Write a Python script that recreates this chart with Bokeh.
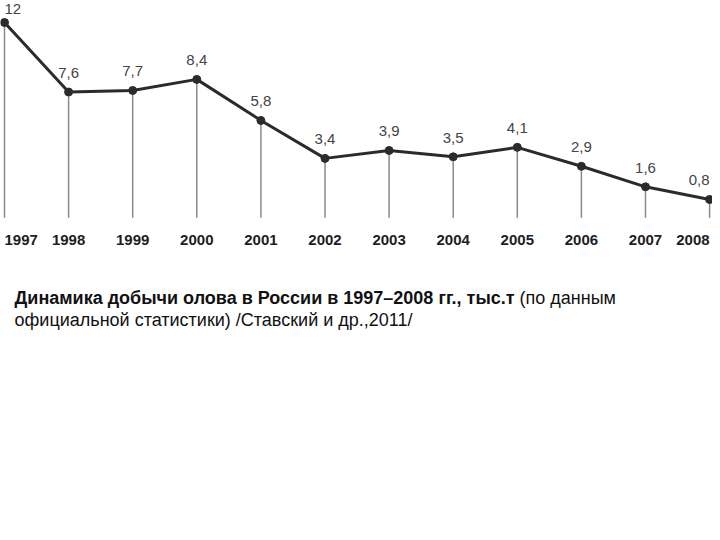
from bokeh.plotting import figure
from bokeh.models import ColumnDataSource, Label
from bokeh.core.properties import value
from bokeh.embed import file_html
from bokeh.resources import INLINE

years = ["1997", "1998", "1999", "2000", "2001", "2002", "2003", "2004", "2005", "2006", "2007", "2008"]
production = [12, 7.6, 7.7, 8.4, 5.8, 3.4, 3.9, 3.5, 4.1, 2.9, 1.6, 0.8]
value_labels = ["12", "7,6", "7,7", "8,4", "5,8", "3,4", "3,9", "3,5", "4,1", "2,9", "1,6", "0,8"]
caption_bold = "Динамика добычи олова в России в 1997–2008 гг., тыс.т"
caption_normal_1 = "(по данным"
caption_normal_2 = "официальной статистики) /Ставский и др.,2011/"

W, H = 712, 532
BASE = -0.35

n = len(years)
idx = list(range(n))
aligns = ["left"] + ["center"] * (n - 2) + ["right"]
label_dy = [-14] + [-19] * (n - 1)
src = ColumnDataSource(dict(x=idx, y=production, base=[BASE] * n, zero=[0] * n,
                            year=years, lab=value_labels, align=aligns, dy=label_dy))

px_per_x = 64.1
x0 = -4 / px_per_x
px_per_y = 15.8
zero_px = 211.6
p = figure(width=W, height=H, x_range=(x0, x0 + W / px_per_x),
           y_range=((zero_px - H) / px_per_y, zero_px / px_per_y),
           output_backend="svg", toolbar_location=None, min_border=0)
p.axis.visible = False
p.grid.visible = False
p.outline_line_color = None
p.background_fill_color = "white"

p.segment(x0="x", y0="y", x1="x", y1="base", source=src, line_color="#8a8a8a", line_width=1.5)
p.line(x="x", y="y", source=src, line_color="#2b2b2b", line_width=3)
p.scatter(x="x", y="y", source=src, size=8, fill_color="#2b2b2b", line_color="#2b2b2b")

p.text(x="x", y="y", text="lab", source=src, text_align="align", text_baseline="middle",
       y_offset="dy", text_font=value("Liberation Sans"), text_font_size="15px", text_color="#444444")
p.text(x="x", y="zero", text="year", source=src, text_align="align", text_baseline="middle",
       y_offset=28, text_font=value("Liberation Sans"), text_font_size="15px",
       text_font_style="bold", text_color="#1e1e1e")

cb = Label(x=14, y=H - 297, x_units="screen", y_units="screen", text=caption_bold,
           text_font="Liberation Sans", text_font_size="18px", text_font_style="bold",
           text_baseline="middle", text_color="#111111")
cn1 = Label(x=519, y=H - 297, x_units="screen", y_units="screen", text=caption_normal_1,
            text_font="Liberation Sans", text_font_size="18px",
            text_baseline="middle", text_color="#111111")
cn2 = Label(x=14, y=H - 319, x_units="screen", y_units="screen", text=caption_normal_2,
            text_font="Liberation Sans", text_font_size="18px",
            text_baseline="middle", text_color="#111111")
for l in (cb, cn1, cn2):
    p.add_layout(l)

open("out.html", "w").write(file_html(p, INLINE))
